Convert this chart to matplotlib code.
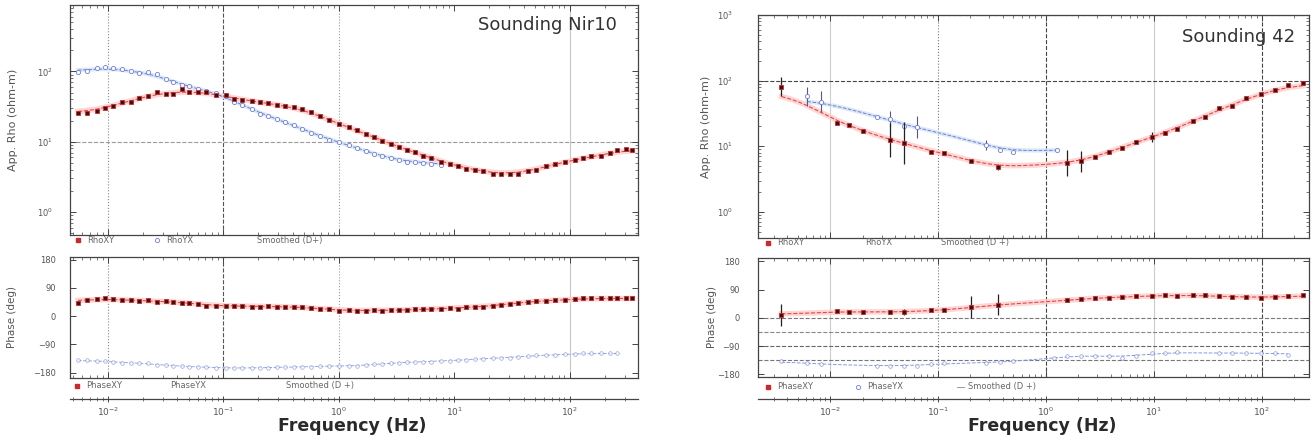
import numpy as np
import matplotlib
matplotlib.use("Agg")
import matplotlib.pyplot as plt
from matplotlib.ticker import LogLocator, NullFormatter, FixedLocator, FixedFormatter

plt.rcParams['font.family'] = ['DejaVu Sans']

# ---------------- Sounding Nir10 ----------------
freq_nir = [0.00551, 0.00659, 0.00804, 0.00942, 0.0110, 0.0132, 0.0158, 0.0185, 0.0221, 0.0264,
            0.0316, 0.0363, 0.0435, 0.0509, 0.0608, 0.0713, 0.0871, 0.106, 0.124, 0.146,
            0.178, 0.208, 0.244, 0.292, 0.342, 0.409, 0.480, 0.574, 0.686, 0.820,
            1.00, 1.22, 1.43, 1.71, 2.00, 2.35, 2.81, 3.29, 3.86, 4.61,
            5.41, 6.34, 7.73, 9.25, 10.8, 12.7, 15.2, 17.8, 21.7, 25.4,
            30.4, 35.6, 43.5, 50.9, 62.1, 74.3, 90.6, 110, 129, 152,
            185, 221, 259, 304, 349]
rho_xy_nir = [25.7, 25.7, 27.5, 30.2, 32.4, 36.3, 37.2, 41.7, 44.7, 50.1,
              47.9, 47.9, 56.2, 51.3, 50.1, 51.3, 45.7, 45.7, 40.7, 38.9,
              38.0, 36.3, 35.5, 33.1, 32.4, 30.9, 28.8, 26.3, 23.4, 20.4,
              17.8, 16.2, 14.5, 12.9, 11.7, 10.2, 9.3, 8.5, 7.6, 7.1,
              6.3, 5.8, 5.2, 4.8, 4.5, 4.1, 3.9, 3.8, 3.5, 3.5,
              3.5, 3.5, 3.8, 3.9, 4.5, 4.8, 5.2, 5.4, 5.8, 6.2,
              6.3, 6.8, 7.6, 7.9, 7.6]
rho_yx_nir = [97.7, 102, 110, 115, 110, 107, 100, 95.5, 97.7, 91.2,
              77.6, 70.8, 63.1, 61.7, 56.2, 52.5, 49.0, 44.7, 37.2, 33.1,
              28.8, 24.5, 23.4, 20.9, 19.1, 17.0, 15.1, 13.5, 12.0, 10.7,
              9.8, 8.9, 8.1, 7.4, 6.6, 6.3, 5.8, 5.4, 5.2, 5.1,
              5.0, 4.8, 4.6]
phase_xy_nir = [42, 51, 54, 56, 53, 51, 51, 49, 51, 45,
                48, 45, 43, 42, 40, 33, 32, 33, 33, 32,
                30, 30, 32, 30, 30, 30, 28, 26, 23, 21,
                17, 19, 17, 17, 19, 17, 19, 19, 19, 21,
                21, 21, 24, 26, 24, 28, 30, 30, 32, 35,
                40, 42, 45, 48, 49, 51, 51, 53, 56, 56,
                56, 56, 56, 56, 56]
phase_yx_nir = [-140, -141, -142, -144, -145, -148, -150, -148, -150, -156,
                -157, -158, -159, -161, -162, -163, -164, -165, -166, -166,
                -165, -164, -164, -163, -163, -162, -161, -161, -160, -160,
                -159, -159, -159, -157, -154, -152, -150, -148, -147, -145,
                -145, -145, -143, -142, -141, -139, -137, -135, -134, -133,
                -132, -131, -128, -124, -124, -124, -122, -120, -119, -119,
                -119, -119, -119]

# ---------------- Sounding 42 ----------------
freq_42_xy = [0.00355, 0.0115, 0.0151, 0.0204, 0.0363, 0.0490, 0.0871, 0.115, 0.204, 0.363,
              1.58, 2.14, 2.88, 3.89, 5.13, 6.92, 9.55, 12.6, 16.6, 22.9,
              30.2, 40.7, 53.7, 72.4, 97.7, 132, 174, 240]
rho_xy_42 = [81.3, 22.4, 20.9, 17.0, 12.3, 11.2, 8.3, 7.8, 5.9, 4.8,
             5.5, 5.9, 6.8, 8.3, 9.5, 11.5, 13.8, 15.8, 18.6, 24.5,
             28.2, 38.0, 41.7, 53.7, 63.1, 72.4, 87.1, 93.3]
rho_xy_42_err = [0.15, 0, 0, 0, 0.26, 0.32, 0, 0, 0, 0.05,
                 0.20, 0.16, 0, 0, 0, 0, 0.08, 0, 0, 0,
                 0, 0, 0, 0, 0, 0, 0, 0]          # half-width, decades
phase_xy_42 = [10, 21, 19, 19, 19, 19, 24, 24, 34, 42,
               56, 61, 64, 64, 67, 69, 69, 74, 71, 72,
               72, 69, 67, 67, 64, 67, 69, 72]
phase_xy_42_err = [34, 0, 0, 0, 5, 10, 0, 0, 35, 33,
                   0, 0, 0, 0, 0, 0, 0, 0, 0, 0,
                   0, 0, 0, 0, 0, 0, 0, 0]          # degrees

freq_42_yx = [0.00617, 0.00832, 0.0275, 0.0363, 0.0490, 0.0646, 0.282, 0.380, 0.501, 1.26]
rho_yx_42 = [57.5, 47.9, 28.2, 25.7, 20.0, 19.5, 10.5, 8.7, 8.3, 8.9]
rho_yx_42_err = [0.14, 0.16, 0, 0.12, 0.04, 0.17, 0.08, 0.03, 0, 0]

freq_42_pyx = [0.00355, 0.00617, 0.00832, 0.0275, 0.0363, 0.0490, 0.0646, 0.0871, 0.115, 0.282,
               0.380, 0.501, 1.20, 1.58, 2.14, 2.88, 3.89, 5.13, 6.92, 9.55,
               12.6, 16.6, 40.7, 53.7, 72.4, 97.7, 132, 174]
phase_yx_42 = [-138, -143, -148, -152, -152, -152, -152, -148, -145, -143,
               -141, -138, -127, -122, -120, -120, -122, -127, -120, -111,
               -113, -109, -113, -111, -111, -113, -113, -117]

freq_ticks = [1e-2, 1e-1, 1, 10, 100]
freq_labels = [r'$10^{-2}$', r'$10^{-1}$', r'$10^{0}$', r'$10^{1}$', r'$10^{2}$']
phase_ticks = [180, 90, 0, -90, -180]

C_XY = '#cc2a2a'
C_XY_FACE = '#3a1212'
C_YX = '#6f7fd6'
TXT = '#555555'
FRAME = '#444444'

W, H = 1314, 441
fig = plt.figure(figsize=(W / 100, H / 100), dpi=100)


def box(x0, y0, x1, y1):
    return [x0 / W, 1 - y1 / H, (x1 - x0) / W, (y1 - y0) / H]


def smooth(f, v, log_v=True, width=0.14, n=400):
    lf = np.log10(np.asarray(f, float))
    y = np.log10(np.asarray(v, float)) if log_v else np.asarray(v, float)
    g = np.linspace(lf.min(), lf.max(), n)
    yi = np.interp(g, lf, y)
    k = np.exp(-0.5 * ((g[:, None] - g[None, :]) / width) ** 2)
    ys = (k @ yi) / k.sum(axis=1)
    return 10 ** g, (10 ** ys if log_v else ys)


def style_axes(ax, xlim):
    ax.set_xscale('log')
    ax.set_xlim(*xlim)
    for s in ax.spines.values():
        s.set_color(FRAME)
        s.set_linewidth(0.9)
    ax.xaxis.set_major_locator(LogLocator(base=10, numticks=12))
    ax.xaxis.set_minor_locator(LogLocator(base=10, subs=np.arange(2, 10), numticks=12))
    ax.xaxis.set_major_formatter(NullFormatter())
    ax.xaxis.set_minor_formatter(NullFormatter())
    ax.tick_params(which='both', direction='in', top=True, right=True,
                   colors=FRAME, labelcolor=TXT, labelsize=6)
    ax.tick_params(which='major', length=4, width=0.7)
    ax.tick_params(which='minor', length=2, width=0.5)


def grid_lines(ax, vlines, hlines):
    for x, ls, c in vlines:
        ax.axvline(x, ls=ls, color=c, lw=0.8, zorder=0)
    for y, ls, c in hlines:
        ax.axhline(y, ls=ls, color=c, lw=0.8, zorder=0)


def legend_row(ax, y, entries):
    for x, kind, label in entries:
        if kind == 'xy':
            ax.plot([x], [y], 's', ms=3.2, mfc=C_XY, mec=C_XY, transform=ax.transAxes, clip_on=False)
        elif kind == 'yx':
            ax.plot([x], [y], 'o', ms=3.0, mfc='none', mec=C_YX, mew=0.6, transform=ax.transAxes, clip_on=False)
        elif kind == 'line':
            ax.plot([x - 0.012, x], [y, y], '-', lw=0.7, color='#999999', transform=ax.transAxes, clip_on=False)
        ax.text(x + 0.016 if kind != 'line' else x + 0.008, y, label, transform=ax.transAxes,
                fontsize=6, color='#666666', va='center', ha='left')


def freq_axis(rect, xlim, label_x):
    axf = fig.add_axes(rect)
    axf.set_xscale('log')
    axf.set_xlim(*xlim)
    axf.set_yticks([])
    for side in ('top', 'left', 'right'):
        axf.spines[side].set_visible(False)
    axf.spines['bottom'].set_color(FRAME)
    axf.spines['bottom'].set_linewidth(0.9)
    axf.xaxis.set_major_locator(FixedLocator(freq_ticks))
    axf.xaxis.set_major_formatter(FixedFormatter(freq_labels))
    axf.xaxis.set_minor_locator(LogLocator(base=10, subs=np.arange(2, 10), numticks=12))
    axf.xaxis.set_minor_formatter(NullFormatter())
    axf.tick_params(which='both', direction='inout', colors=FRAME, labelcolor=TXT, labelsize=6.5, pad=2)
    axf.tick_params(which='major', length=5, width=0.7)
    axf.tick_params(which='minor', length=3, width=0.5)
    fig.text(label_x / W, 1 - 426 / H, 'Frequency (Hz)', fontsize=12.5, fontweight='bold',
             color='#2a2a2a', ha='center', va='center')


# ======================= left: Sounding Nir10 =======================
xlim_l = (0.0047, 390)
ax1 = fig.add_axes(box(70, 5, 638, 235))
style_axes(ax1, xlim_l)
ax1.set_yscale('log')
ax1.set_ylim(0.47, 880)
ax1.yaxis.set_major_locator(FixedLocator([1, 10, 100]))
ax1.yaxis.set_minor_locator(LogLocator(base=10, subs=np.arange(2, 10), numticks=12))
ax1.yaxis.set_minor_formatter(NullFormatter())
ax1.tick_params(axis='y', pad=12)
grid_lines(ax1, [(0.01, ':', '#888888'), (0.1, '--', '#555555'), (1, ':', '#999999'), (100, '-', '#c8c8c8')],
           [(10, '--', '#9a9a9a')])

fs, vs = smooth(freq_nir, rho_xy_nir)
ax1.plot(fs, vs, '-', lw=4, color='#ffcccc', alpha=0.8, zorder=1)
ax1.plot(fs, vs, '--', lw=0.8, color='#e04848', zorder=2)
fs, vs = smooth(freq_nir[:len(rho_yx_nir)], rho_yx_nir)
ax1.plot(fs, vs, '-', lw=3, color='#d8e6f6', alpha=0.9, zorder=1)
ax1.plot(fs, vs, '--', lw=0.7, color=C_YX, zorder=2)
ax1.plot(freq_nir[:len(rho_yx_nir)], rho_yx_nir, 'o', ms=3.0, mfc='white', mec=C_YX, mew=0.6, zorder=3)
ax1.plot(freq_nir, rho_xy_nir, 's', ms=3.4, mfc=C_XY_FACE, mec=C_XY, mew=0.6, zorder=4)
ax1.set_ylabel('App. Rho (ohm-m)', fontsize=8, color=TXT)
ax1.yaxis.set_label_coords(-52 / 568, 0.5)
ax1.text(0.963, 0.915, 'Sounding Nir10', transform=ax1.transAxes, fontsize=13, color='#333333',
         ha='right', va='center')
legend_row(ax1, -0.022, [(0.014, 'xy', 'RhoXY'), (0.153, 'yx', 'RhoYX'), (0.313, 'none', 'Smoothed (D+)')])

ax2 = fig.add_axes(box(70, 257, 638, 378))
style_axes(ax2, xlim_l)
ax2.set_ylim(-197, 188)
ax2.yaxis.set_major_locator(FixedLocator(phase_ticks))
ax2.yaxis.set_minor_locator(FixedLocator([]))
ax2.tick_params(axis='y', pad=10)
grid_lines(ax2, [(0.01, ':', '#888888'), (0.1, '--', '#555555'), (1, ':', '#999999'), (100, '-', '#c8c8c8')], [])
fs, vs = smooth(freq_nir, phase_xy_nir, log_v=False)
ax2.plot(fs, vs, '-', lw=4, color='#ffcccc', alpha=0.8, zorder=1)
ax2.plot(fs, vs, '--', lw=0.8, color='#e04848', zorder=2)
fs, vs = smooth(freq_nir[:len(phase_yx_nir)], phase_yx_nir, log_v=False)
ax2.plot(fs, vs, '--', lw=0.7, color='#9aa6e4', zorder=2)
ax2.plot(freq_nir[:len(phase_yx_nir)], phase_yx_nir, 'o', ms=2.6, mfc='white', mec=C_YX, mew=0.5,
         alpha=0.7, zorder=3)
ax2.plot(freq_nir, phase_xy_nir, 's', ms=3.4, mfc=C_XY_FACE, mec=C_XY, mew=0.6, zorder=4)
ax2.set_ylabel('Phase (deg)', fontsize=7.5, color=TXT)
ax2.yaxis.set_label_coords(-53 / 568, 0.5)
legend_row(ax2, -0.066, [(0.012, 'xy', 'PhaseXY'), (0.16, 'none', 'PhaseYX'), (0.364, 'none', 'Smoothed (D +)')])

freq_axis(box(70, 399, 638, 399.1), xlim_l, 352)

# ======================= right: Sounding 42 =======================
xlim_r = (0.00215, 275)
ax3 = fig.add_axes(box(758, 15, 1309, 238))
style_axes(ax3, xlim_r)
ax3.set_yscale('log')
ax3.set_ylim(0.4, 1000)
ax3.yaxis.set_major_locator(FixedLocator([1, 10, 100, 1000]))
ax3.yaxis.set_minor_locator(LogLocator(base=10, subs=np.arange(2, 10), numticks=12))
ax3.yaxis.set_minor_formatter(NullFormatter())
ax3.tick_params(axis='y', pad=18)
vl_r = [(0.01, '-', '#cccccc'), (0.1, ':', '#777777'), (1, '--', '#444444'), (10, '-', '#cccccc'),
        (100, '--', '#444444')]
grid_lines(ax3, vl_r, [(1000, '--', '#444444'), (100, '--', '#444444')])

fs, vs = smooth(freq_42_xy, rho_xy_42, width=0.18)
ax3.plot(fs, vs, '-', lw=4, color='#ffcccc', alpha=0.8, zorder=1)
ax3.plot(fs, vs, '--', lw=0.8, color='#e04848', zorder=2)
fs, vs = smooth(freq_42_yx, rho_yx_42, width=0.18)
ax3.plot(fs, vs, '-', lw=3, color='#d8e6f6', alpha=0.9, zorder=1)
ax3.plot(fs, vs, '--', lw=0.7, color=C_YX, zorder=2)

ryx = np.array(rho_yx_42)
eyx = np.array(rho_yx_42_err)
ax3.errorbar(freq_42_yx, ryx, yerr=[ryx - ryx / 10 ** eyx, ryx * 10 ** eyx - ryx], fmt='o', ms=3,
             mfc='white', mec=C_YX, mew=0.6, ecolor='#555a80', elinewidth=0.8, capsize=0, zorder=3)
rxy = np.array(rho_xy_42)
exy = np.array(rho_xy_42_err)
ax3.errorbar(freq_42_xy, rxy, yerr=[rxy - rxy / 10 ** exy, rxy * 10 ** exy - rxy], fmt='s', ms=3.4,
             mfc=C_XY_FACE, mec=C_XY, mew=0.6, ecolor='#222222', elinewidth=0.9, capsize=0, zorder=4)
ax3.set_ylabel('App. Rho (ohm-m)', fontsize=8, color=TXT)
ax3.yaxis.set_label_coords(-47 / 551, 0.5)
ax3.text(0.975, 0.9, 'Sounding 42', transform=ax3.transAxes, fontsize=13, color='#333333',
         ha='right', va='center')
legend_row(ax3, -0.022, [(0.018, 'xy', 'RhoXY'), (0.178, 'none', 'RhoYX'), (0.316, 'none', 'Smoothed (D +)')])

ax4 = fig.add_axes(box(758, 258, 1309, 377))
style_axes(ax4, xlim_r)
ax4.set_ylim(-188, 191)
ax4.yaxis.set_major_locator(FixedLocator(phase_ticks))
ax4.yaxis.set_minor_locator(FixedLocator([]))
ax4.tick_params(axis='y', pad=13)
grid_lines(ax4, vl_r, [(0, '--', '#777777'), (-45, '--', '#888888'), (-90, '--', '#666666'),
                       (-135, '--', '#777777')])
fs, vs = smooth(freq_42_xy, phase_xy_42, log_v=False, width=0.18)
ax4.plot(fs, vs, '-', lw=4, color='#ffcccc', alpha=0.8, zorder=1)
ax4.plot(fs, vs, '--', lw=0.8, color='#e04848', zorder=2)
fs, vs = smooth(freq_42_pyx, phase_yx_42, log_v=False, width=0.18)
ax4.plot(fs, vs, '--', lw=0.7, color='#8a97e0', zorder=2)
ax4.plot(freq_42_pyx, phase_yx_42, 'o', ms=2.6, mfc='white', mec=C_YX, mew=0.5, alpha=0.8, zorder=3)
ax4.errorbar(freq_42_xy, phase_xy_42, yerr=phase_xy_42_err, fmt='s', ms=3.4, mfc=C_XY_FACE, mec=C_XY,
             mew=0.6, ecolor='#222222', elinewidth=0.9, capsize=0, zorder=4)
ax4.set_ylabel('Phase (deg)', fontsize=7.5, color=TXT)
ax4.yaxis.set_label_coords(-41 / 551, 0.5)
legend_row(ax4, -0.084, [(0.018, 'xy', 'PhaseXY'), (0.182, 'yx', 'PhaseYX'), (0.373, 'line', 'Smoothed (D +)')])

freq_axis(box(758, 399, 1309, 399.1), xlim_r, 1042)

fig.savefig('out.png', dpi=100, facecolor='white')
